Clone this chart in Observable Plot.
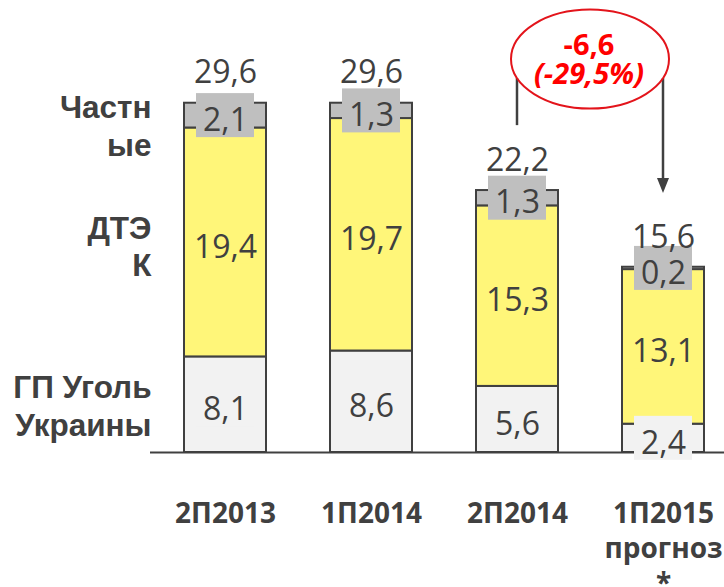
<!DOCTYPE html>
<html><head><meta charset="utf-8">
<script src="https://cdn.jsdelivr.net/npm/d3@7"></script>
<script src="https://cdn.jsdelivr.net/npm/@observablehq/plot@0.6"></script>
<style>
html,body{margin:0;padding:0;background:#fff}
#chart svg{display:block}
</style>
</head><body><div id="chart"></div>
<script>
// ---- data ----
const categories = ["2П2013", "1П2014", "2П2014", "1П2015"];
const categoryLabels = ["2П2013", "1П2014", "2П2014", "1П2015\nпрогноз\n*"];
const series = ["ГП Уголь Украины", "ДТЭК", "Частные"];
const seriesLabels = ["ГП Уголь\nУкраины", "ДТЭ\nК", "Частн\nые"];
const gpUgol = [8.1, 8.6, 5.6, 2.4];
const dtek = [19.4, 19.7, 15.3, 13.1];
const privateCos = [2.1, 1.3, 1.3, 0.2];
const totals = [29.6, 29.6, 22.2, 15.6];
const changeFrom = "2П2014";
const changeTo = "1П2015";
const changeAbs = "-6,6";
const changePct = "(-29,5%)";

// ---- styles ----
const fills = ["#f2f2f2", "#fff679", "#bfbfbf"];
const ink = "#404040";
const fmt = v => v.toFixed(1).replace(".", ",");

// long table with stacked extents
const valuesBySeries = [gpUgol, dtek, privateCos];
const rows = [];
categories.forEach((cat, i) => {
  let acc = 0;
  series.forEach((s, j) => {
    const v = valuesBySeries[j][i];
    rows.push({cat, series: s, value: v, y1: acc, y2: acc + v, mid: acc + v / 2});
    acc += v;
  });
});
const firstBar = rows.filter(r => r.cat === categories[0]);

const labelOffsets = [0, 3, 9];
const seriesLabelMarks = series.map((s, j) =>
  Plot.text([seriesLabels[j]], {
    frameAnchor: "left", y: () => firstBar[j].mid, text: d => d,
    textAnchor: "end", lineAnchor: "middle", dx: 1, dy: labelOffsets[j],
    fontFamily: "'Liberation Sans', Arial, sans-serif", fontWeight: "bold",
    fontSize: 31.5, lineHeight: 1.2, fill: ink
  })
);

const plot = Plot.plot({
  width: 724, height: 587,
  marginLeft: 150, marginRight: 0, marginTop: 0, marginBottom: 135,
  x: {domain: categories, paddingInner: 0.44, paddingOuter: 0.179, align: 0.63, axis: null},
  y: {domain: [0, 38.305], axis: null},
  color: {domain: series, range: fills},
  style: {fontFamily: "'Open Sans', sans-serif", color: ink, background: "#fff", overflow: "hidden"},
  marks: [
    Plot.barY(rows, {x: "cat", y1: "y1", y2: "y2", fill: "series", stroke: ink, strokeWidth: 2}),
    Plot.ruleY([0], {stroke: ink, strokeWidth: 2}),
    Plot.barY(rows, {x: "cat", y1: "mid", y2: "mid", fill: "series",
      insetTop: -22, insetBottom: -22, insetLeft: 12, insetRight: 12}),
    Plot.text(rows, {x: "cat", y: "mid", text: d => fmt(d.value), fontSize: 32, fill: ink, dy: 5}),
    Plot.text(categories, {x: d => d, y: (d, i) => totals[i], text: (d, i) => fmt(totals[i]),
      lineAnchor: "bottom", dy: -20, fontSize: 32, fill: ink}),
    Plot.text(categories, {x: d => d, frameAnchor: "bottom", text: (d, i) => categoryLabels[i],
      lineAnchor: "top", dy: 46, fontSize: 28, fontWeight: "bold", lineHeight: 1.25, fill: ink}),
    ...seriesLabelMarks
  ]
});

// ---- annotation (ellipse, bracket, arrow) through Plot scales ----
const sx = plot.scale("x"), sy = plot.scale("y");
const bx = c => sx.apply(c) + sx.bandwidth / 2;
const xa = bx(changeFrom), xb = bx(changeTo);
const cx = (xa + xb) / 2, cy = sy.apply(33.3), rx = 79, ry = 49.5;
const edgeY = x => cy + ry * Math.sqrt(Math.max(0, 1 - ((x - cx) / rx) ** 2));
const svg = d3.select(plot);
const g = svg.append("g");
g.append("line").attr("x1", xa).attr("x2", xa).attr("y1", edgeY(xa)).attr("y2", sy.apply(27.7))
  .attr("stroke", ink).attr("stroke-width", 2.5);
const tipY = sy.apply(21.95);
g.append("line").attr("x1", xb).attr("x2", xb).attr("y1", edgeY(xb)).attr("y2", tipY - 12)
  .attr("stroke", ink).attr("stroke-width", 2.5);
g.append("path").attr("d", `M${xb - 6},${tipY - 15}L${xb + 6},${tipY - 15}L${xb},${tipY}Z`).attr("fill", ink);
g.append("ellipse").attr("cx", cx).attr("cy", cy).attr("rx", rx).attr("ry", ry)
  .attr("fill", "none").attr("stroke", "#e3141b").attr("stroke-width", 2);
g.append("text").attr("x", cx - 1).attr("y", cy - 4).attr("text-anchor", "middle")
  .attr("fill", "#ff0000").attr("font-size", 29).attr("font-weight", "bold")
  .attr("font-family", "'Open Sans', sans-serif").text(changeAbs);
g.append("text").attr("x", cx - 1).attr("y", cy + 25).attr("text-anchor", "middle")
  .attr("fill", "#ff0000").attr("font-size", 29).attr("font-weight", "bold").attr("font-style", "italic")
  .attr("font-family", "'Open Sans', sans-serif").text(changePct);

document.getElementById("chart").append(plot);
</script>
</body></html>
